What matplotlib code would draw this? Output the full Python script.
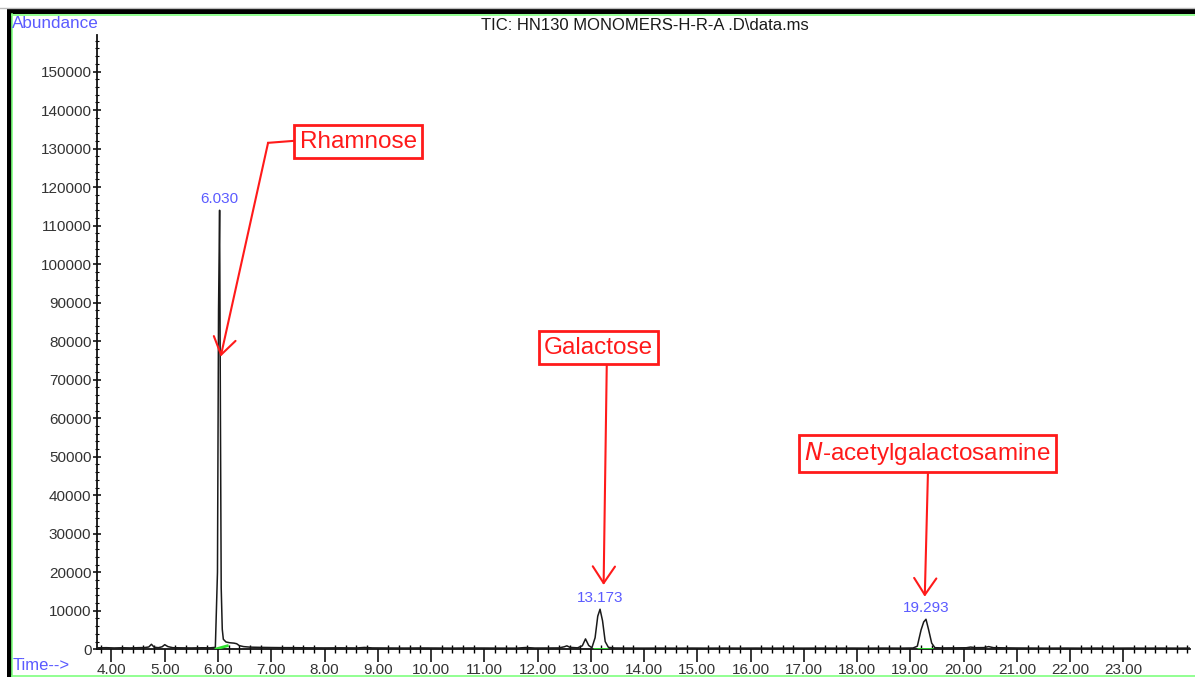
import matplotlib
matplotlib.use("Agg")
import matplotlib.pyplot as plt
from matplotlib.lines import Line2D
from matplotlib.patches import Rectangle

# Total ion chromatogram trace (retention time in min, abundance)
time_min = [3.73, 3.90, 4.05, 4.20, 4.35, 4.50, 4.62, 4.70, 4.75, 4.80, 4.88,
            4.95, 5.00, 5.06, 5.15, 5.30, 5.50, 5.70, 5.85, 5.95, 5.99, 6.01,
            6.03, 6.045, 6.06, 6.08, 6.10, 6.15, 6.22, 6.30, 6.35, 6.40, 6.48,
            6.60, 6.80, 7.00, 7.20, 7.45, 7.70, 8.00, 8.30, 8.60, 8.75, 8.90,
            9.20, 9.50, 9.80, 10.10, 10.40, 10.70, 11.00, 11.30, 11.60, 11.78,
            11.95, 12.20, 12.40, 12.50, 12.55, 12.61, 12.75, 12.84, 12.90,
            12.96, 13.02, 13.08, 13.13, 13.173, 13.22, 13.27, 13.33, 13.45,
            13.70, 14.00, 14.30, 14.60, 14.90, 15.20, 15.50, 15.80, 16.10,
            16.40, 16.70, 17.00, 17.30, 17.60, 17.90, 18.20, 18.50, 18.80,
            19.05, 19.13, 19.20, 19.25, 19.293, 19.34, 19.40, 19.46, 19.60,
            19.85, 20.05, 20.13, 20.22, 20.38, 20.47, 20.56, 20.75, 21.00,
            21.30, 21.60, 21.90, 22.20, 22.50, 22.80, 23.10, 23.40, 23.70,
            24.00, 24.25]
abundance = [380, 420, 350, 400, 360, 420, 450, 600, 1300, 550, 420,
             650, 1200, 700, 420, 380, 350, 400, 380, 500, 20000, 88000,
             114000, 62000, 16000, 5200, 2600, 1900, 1700, 1600, 1450, 950, 700,
             560, 500, 460, 430, 420, 380, 360, 380, 350, 480, 360,
             340, 320, 350, 330, 310, 340, 330, 310, 300, 460,
             330, 340, 360, 650, 900, 500, 380, 900, 2700,
             1000, 400, 3000, 8600, 10400, 7400, 2000, 500, 340,
             320, 300, 320, 300, 320, 300, 320, 300, 320,
             300, 320, 300, 320, 300, 320, 300, 320, 300,
             340, 800, 5000, 7100, 7800, 5200, 1600, 420, 360,
             380, 400, 580, 420, 440, 700, 420, 380, 340,
             320, 300, 320, 300, 320, 300, 320, 300, 320,
             300, 320]

# Integrated peaks
peak_rt = [6.030, 13.173, 19.293]
peak_height = [114000, 10400, 7800]
peak_names = ["Rhamnose", "Galactose", "$\\mathit{N}$-acetylgalactosamine"]
# integration baselines (start, end) per peak
base_start = [5.94, 13.05, 19.13]
base_end = [6.20, 13.33, 19.43]
base_start_val = [0, 0, 0]
base_end_val = [1000, 0, 0]

x_ticks = [4 + i for i in range(20)]
x_tick_labels = [f"{t:.2f}" for t in x_ticks]
y_ticks = list(range(0, 160001, 10000))
y_tick_labels = [str(v) for v in y_ticks]

W, H = 1195, 677
plt.rcParams['font.family'] = ['Liberation Sans', 'DejaVu Sans']

fig = plt.figure(figsize=(W / 100, H / 100), dpi=100)
ax = fig.add_axes([97 / W, 1 - 649.3 / H, (1190 - 97) / W, (649.3 - 35) / H])

ax.plot(time_min, abundance, color="#1a1a1a", lw=1.1, zorder=3)

for s, e, sv, ev in zip(base_start, base_end, base_start_val, base_end_val):
    ax.plot([s, e], [sv, ev], color="#2ee02e", lw=2.0, zorder=4,
            solid_capstyle="butt")

blue = "#5b5bff"
for rt, h in zip(peak_rt, peak_height):
    ax.annotate(f"{rt:.3f}", xy=(rt, h), xytext=(0, 3),
                textcoords="offset points", ha="center", va="bottom",
                color=blue, fontsize=11, zorder=6)

# axes styling
ax.set_xlim(3.728, 24.25)
ax.set_ylim(0, 159500)
for side in ("top", "right"):
    ax.spines[side].set_visible(False)
for side in ("left", "bottom"):
    ax.spines[side].set_linewidth(1.3)
    ax.spines[side].set_color("#111111")

ax.set_xticks(x_ticks)
ax.set_xticklabels(x_tick_labels)
ax.set_xticks([3.8 + 0.2 * i for i in range(103)], minor=True)
ax.set_yticks(y_ticks[:-1])
ax.set_yticklabels(y_tick_labels[:-1])
ax.set_yticks([2000 * i for i in range(80)], minor=True)
ax.tick_params(axis="x", which="major", direction="out", length=9, width=1.1,
               labelsize=11, labelcolor="#333333", pad=1)
ax.tick_params(axis="x", which="minor", direction="inout", length=6, width=1.0)
ax.tick_params(axis="y", which="major", direction="inout", length=6, width=1.1,
               labelsize=11, labelcolor="#333333", pad=1)
ax.tick_params(axis="y", which="minor", direction="inout", length=3, width=0.8)

# compound annotations
red = "#ff1a1a"
box_style = dict(boxstyle="square,pad=0.22", fc="white", ec=red, lw=2.0)
ax.text(8.63, 131800, peak_names[0], ha="center", va="center", color=red,
        fontsize=17.5, bbox=box_style, zorder=7)
ax.text(13.144, 78300, peak_names[1], ha="center", va="center", color=red,
        fontsize=17.5, bbox=box_style, zorder=7)
ax.text(19.32, 50800, peak_names[2], ha="center", va="center", color=red,
        fontsize=17.5, bbox=box_style, zorder=7)

arrow = dict(arrowstyle="->,head_length=0.6,head_width=0.4", color=red,
             lw=1.5, mutation_scale=20, shrinkA=0, shrinkB=0)
ax.plot([7.41, 6.94], [132000, 131500], color=red, lw=1.5, zorder=6)
ax.annotate("", xy=(6.05, 76000), xytext=(6.94, 131500), arrowprops=arrow,
            zorder=6)
ax.annotate("", xy=(13.24, 16700), xytext=(13.30, 74600), arrowprops=arrow,
            zorder=6)
ax.annotate("", xy=(19.27, 13650), xytext=(19.33, 46000), arrowprops=arrow,
            zorder=6)

# header and axis captions
fig.text(645 / W, 1 - 25 / H, "TIC: HN130 MONOMERS-H-R-A .D\\data.ms",
         ha="center", va="center", fontsize=12, color="#1a1a1a")
fig.text(12 / W, 1 - 24 / H, "Abundance", ha="left", va="center",
         fontsize=12.3, color=blue)
fig.text(13 / W, 1 - 666 / H, "Time-->", ha="left", va="center",
         fontsize=12, color=blue)

# window frame
fig.patches.append(Rectangle((7 / W, 1 - 14 / H), 1 - 7 / W, 5 / H,
                             transform=fig.transFigure, fc="black", ec="none"))
fig.patches.append(Rectangle((7 / W, 0), 4.5 / W, 1 - 9 / H,
                             transform=fig.transFigure, fc="black", ec="none"))
fig.lines.append(Line2D([0, 1], [1 - 8 / H, 1 - 8 / H], transform=fig.transFigure,
                        color="#bbbbbb", lw=1))
fig.lines.append(Line2D([11.5 / W, 1], [1 - 15 / H, 1 - 15 / H],
                        transform=fig.transFigure, color="#7fff7f", lw=1.2))
fig.lines.append(Line2D([12 / W, 12 / W], [0, 1 - 14 / H],
                        transform=fig.transFigure, color="#7fff7f", lw=1.2))
fig.lines.append(Line2D([11.5 / W, 1], [1 - 675.5 / H, 1 - 675.5 / H],
                        transform=fig.transFigure, color="#7fff7f", lw=1.2))

fig.savefig("out.png", dpi=100)
